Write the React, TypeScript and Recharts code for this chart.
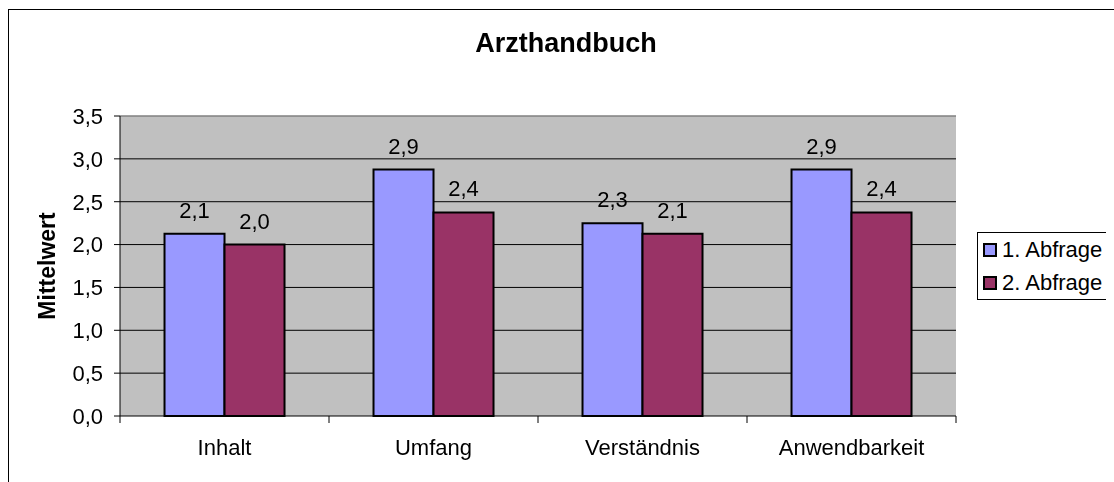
import React from 'react';
import {Bar, BarChart, CartesianGrid, LabelList, Legend, ReferenceLine, XAxis, YAxis} from 'recharts';

const categories = ['Inhalt', 'Umfang', 'Verständnis', 'Anwendbarkeit'];
const abfrage1 = [2.125, 2.875, 2.25, 2.875];
const abfrage2 = [2.0, 2.375, 2.125, 2.375];
const yTicks = [0, 0.5, 1, 1.5, 2, 2.5, 3, 3.5];
const gridValues = [0.5, 1, 1.5, 2, 2.5, 3];

const data = categories.map((name, i) => ({name, a1: abfrage1[i], a2: abfrage2[i]}));

const FONT = '"Liberation Sans", Arial, sans-serif';
const fmt = (v: number) => v.toFixed(1).replace('.', ',');

const CategoryTick = (props: any) => {
    const {x, y, payload, index, visibleTicksCount} = props;
    const off = payload && payload.offset ? payload.offset : 104.5;
    const last = index === (visibleTicksCount ?? categories.length) - 1;
    return (
        <g>
            <line x1={x - off} x2={x - off} y1={y} y2={y + 7} stroke="#000"/>
            {last && <line x1={x + off} x2={x + off} y1={y} y2={y + 7} stroke="#000"/>}
            <text x={x} y={y + 39} textAnchor="middle" fontSize={22} fontFamily={FONT} fill="#000">
                {payload.value}
            </text>
        </g>
    );
};

const renderLegend = (props: any) => {
    const {payload} = props;
    return (
        <div style={{
            boxSizing: 'border-box', width: 136, height: 68, border: '1px solid #000',
            background: '#fff', fontFamily: FONT, fontSize: 22
        }}>
            {(payload || []).map((p: any) => (
                <div key={p.value} style={{height: 33, display: 'flex', alignItems: 'center'}}>
                    <span style={{
                        display: 'inline-block', boxSizing: 'border-box', width: 14, height: 14,
                        marginLeft: 5, marginRight: 5, background: p.color, border: '2px solid #000'
                    }}/>
                    <span style={{color: '#000', whiteSpace: 'nowrap'}}>{p.value}</span>
                </div>
            ))}
        </div>
    );
};

const App = () => {
    return (
        <div style={{position: 'relative', width: 1106, height: 466, overflow: 'hidden'}}>
            {/* chart frame: only top and left edges fall inside the picture */}
            <div style={{
                position: 'fixed', left: 8, top: 9, width: 3000, height: 3000,
                borderTop: '1px solid #000', borderLeft: '1px solid #000', pointerEvents: 'none'
            }}/>
            <div style={{
                position: 'absolute', left: 0, top: 22, width: 1116, textAlign: 'center',
                fontFamily: FONT, fontWeight: 'bold', fontSize: 27, lineHeight: '27px', color: '#000'
            }}>
                Arzthandbuch
            </div>
            <div style={{position: 'absolute', left: 0, top: 0}}>
                <BarChart
                    width={1106}
                    height={466}
                    data={data}
                    margin={{top: 108, right: 158, left: 30, bottom: 18}}
                    barGap={0}
                    barCategoryGap="21.3%"
                >
                    <CartesianGrid
                        vertical={false}
                        horizontalValues={gridValues}
                        stroke="#000"
                        fill="#C0C0C0"
                        fillOpacity={1}
                    />
                    <XAxis
                        dataKey="name"
                        height={40}
                        tickSize={0}
                        tickMargin={0}
                        tickLine={false}
                        axisLine={{stroke: '#000'}}
                        interval={0}
                        tick={<CategoryTick/>}
                    />
                    <XAxis xAxisId="frame" type="number" domain={[0, 4]} hide/>
                    <YAxis
                        width={82}
                        domain={[0, 3.5]}
                        ticks={yTicks}
                        interval={0}
                        tickFormatter={fmt}
                        tickSize={6}
                        tickMargin={11}
                        axisLine={{stroke: '#000'}}
                        tickLine={{stroke: '#000'}}
                        tick={{fill: '#000', fontSize: 22, fontFamily: FONT}}
                        label={{
                            value: 'Mittelwert', angle: -90, position: 'insideLeft', offset: 9,
                            style: {textAnchor: 'middle', fontWeight: 'bold', fontSize: 23, fontFamily: FONT, fill: '#000'}
                        }}
                    />
                    <ReferenceLine y={3.5} stroke="#808080" strokeWidth={1.5}/>
                    <ReferenceLine x={4} xAxisId="frame" stroke="#808080" strokeWidth={1.5}/>
                    <Legend
                        layout="vertical"
                        align="center"
                        verticalAlign="middle"
                        content={renderLegend}
                        wrapperStyle={{left: 969, top: 224, width: 136, height: 68}}
                    />
                    <Bar dataKey="a1" name="1. Abfrage" fill="#9999FF" stroke="#000" strokeWidth={2}
                         isAnimationActive={false}>
                        <LabelList dataKey="a1" position="top" offset={16} formatter={(v: any) => fmt(Number(v))}
                                   style={{fontSize: 22, fontFamily: FONT, fill: '#000'}}/>
                    </Bar>
                    <Bar dataKey="a2" name="2. Abfrage" fill="#993366" stroke="#000" strokeWidth={2}
                         isAnimationActive={false}>
                        <LabelList dataKey="a2" position="top" offset={16} formatter={(v: any) => fmt(Number(v))}
                                   style={{fontSize: 22, fontFamily: FONT, fill: '#000'}}/>
                    </Bar>
                </BarChart>
            </div>
        </div>
    );
};

export default App;
